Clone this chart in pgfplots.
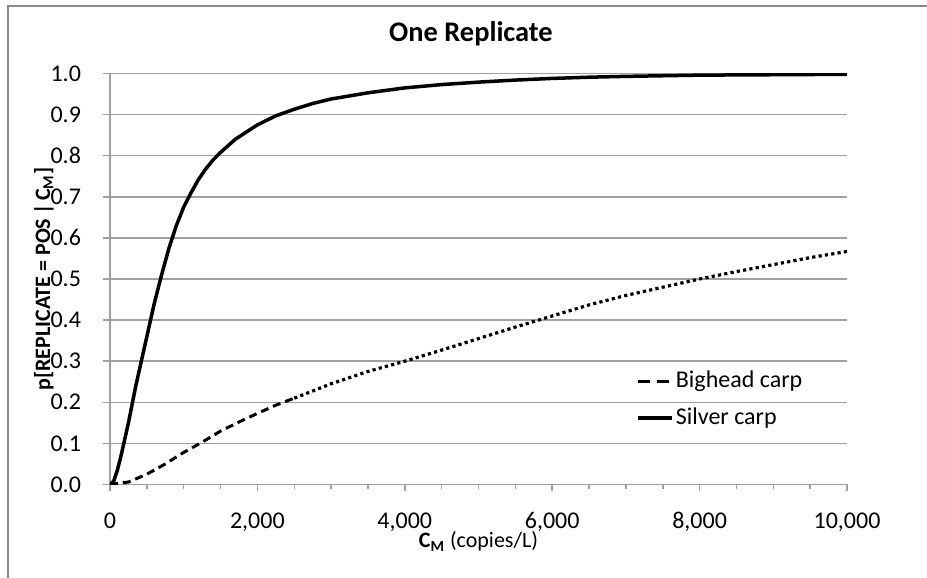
\documentclass[border=0pt]{standalone}
\usepackage{fontspec}
\setmainfont{Carlito}
\usepackage{pgfplots}
\pgfplotsset{compat=1.18}

\definecolor{gridgray}{RGB}{160,160,160}
\definecolor{framegray}{RGB}{137,137,137}
\newcommand\twelve{\fontsize{12}{14.4}\selectfont}
\newcommand\eleven{\fontsize{11}{13.2}\selectfont}

% Silver carp: probability of a positive replicate
\pgfplotstableread{
x y
0 0
50 0.008
100 0.035
150 0.07
200 0.11
250 0.15
300 0.195
350 0.24
400 0.28
450 0.32
500 0.36
600 0.44
700 0.51
800 0.575
900 0.63
1000 0.675
1100 0.71
1200 0.742
1300 0.768
1400 0.79
1500 0.808
1700 0.84
2000 0.875
2250 0.897
2500 0.913
2750 0.927
3000 0.938
3500 0.953
4000 0.965
4500 0.973
5000 0.979
5500 0.984
6000 0.988
6500 0.991
7000 0.993
8000 0.996
9000 0.997
10000 0.998
}\silver

% Bighead carp, low range (drawn dashed)
\pgfplotstableread{
x y
0 0
250 0.006
500 0.025
750 0.05
1000 0.078
1250 0.103
1500 0.13
1750 0.152
2000 0.173
2250 0.193
2500 0.21
}\bigheadlow

% Bighead carp, high range (drawn dotted)
\pgfplotstableread{
x y
2500 0.21
3000 0.245
3500 0.275
4000 0.30
4500 0.327
5000 0.355
5500 0.383
6000 0.41
6500 0.437
7000 0.46
7500 0.48
8000 0.50
8500 0.518
9000 0.535
9500 0.552
10000 0.567
}\bigheadhigh

\begin{document}
\begin{tikzpicture}[x=0.5pt,y=0.5pt]
\useasboundingbox (0,0) rectangle (927,578);
\draw[framegray, line width=0.6pt] (8,-20) rectangle (950,572);
\begin{axis}[
  at={(55pt,46.75pt)}, anchor=south west,
  scale only axis, width=368.5pt, height=205.5pt,
  xmin=0, xmax=10000, ymin=0, ymax=1,
  xtick={0,2000,4000,6000,8000,10000},
  minor xtick={500,1000,1500,2500,3000,3500,4500,5000,5500,6500,7000,7500,8500,9000,9500},
  ytick={0,0.1,0.2,0.3,0.4,0.5,0.6,0.7,0.8,0.9,1.0},
  ymajorgrids,
  major grid style={gridgray, line width=0.75pt},
  axis x line*=bottom, axis y line*=left,
  axis line style={gridgray, line width=0.75pt},
  tick align=outside,
  major tick length=3.5pt, minor tick length=2.5pt,
  every tick/.style={gridgray, line width=0.75pt},
  /pgf/number format/assume math mode=true,
  tick label style={font=\twelve, text=black},
  xticklabel style={/pgf/number format/.cd, 1000 sep={,}, /tikz/.cd, yshift=-7pt},
  yticklabel style={/pgf/number format/.cd, fixed, fixed zerofill, precision=1, /tikz/.cd, xshift=-7.5pt},
  scaled x ticks=false,
  xlabel={\textbf{C\textsubscript{M}} (copies/L)},
  xlabel style={font=\eleven, at={(axis description cs:0.5,-0.1545)}, anchor=base},
  ylabel={\bfseries p[REPLICATE = POS\,|\,C\textsubscript{M}]},
  ylabel style={font=\eleven, at={(axis description cs:-0.0814,0.5)}, anchor=base},
  title={One Replicate},
  every axis title shift=0pt,
  title style={font=\fontsize{14.2}{17}\selectfont\bfseries, at={(axis description cs:0.4898,1.0774)}, anchor=base},
  legend style={draw=none, fill=none, font=\twelve,
    at={(axis cs:7137,0.2068)}, anchor=west,
    inner xsep=0pt, inner ysep=0pt,
    nodes={inner xsep=1pt, inner ysep=3.75pt, text height=8.5pt, text depth=2.5pt}},
  legend cell align=left,
  legend image code/.code={\draw[#1] (0pt,0pt) -- (17pt,0pt);},
]
\addplot[black, line width=1.5pt, dash pattern=on 4pt off 2.5pt,
  legend image code/.code={\draw[black, line width=1.5pt, dash pattern=on 6pt off 3.5pt] (0pt,0pt) -- (17pt,0pt);}]
  table {\bigheadlow};
\addlegendentry{Bighead carp}
\addplot[black, line width=1.75pt] table {\silver};
\addlegendentry{Silver carp}
\addplot[black, line width=1.6pt, dash pattern=on 1.6pt off 1.6pt, forget plot] table {\bigheadhigh};
\end{axis}
\end{tikzpicture}
\end{document}
